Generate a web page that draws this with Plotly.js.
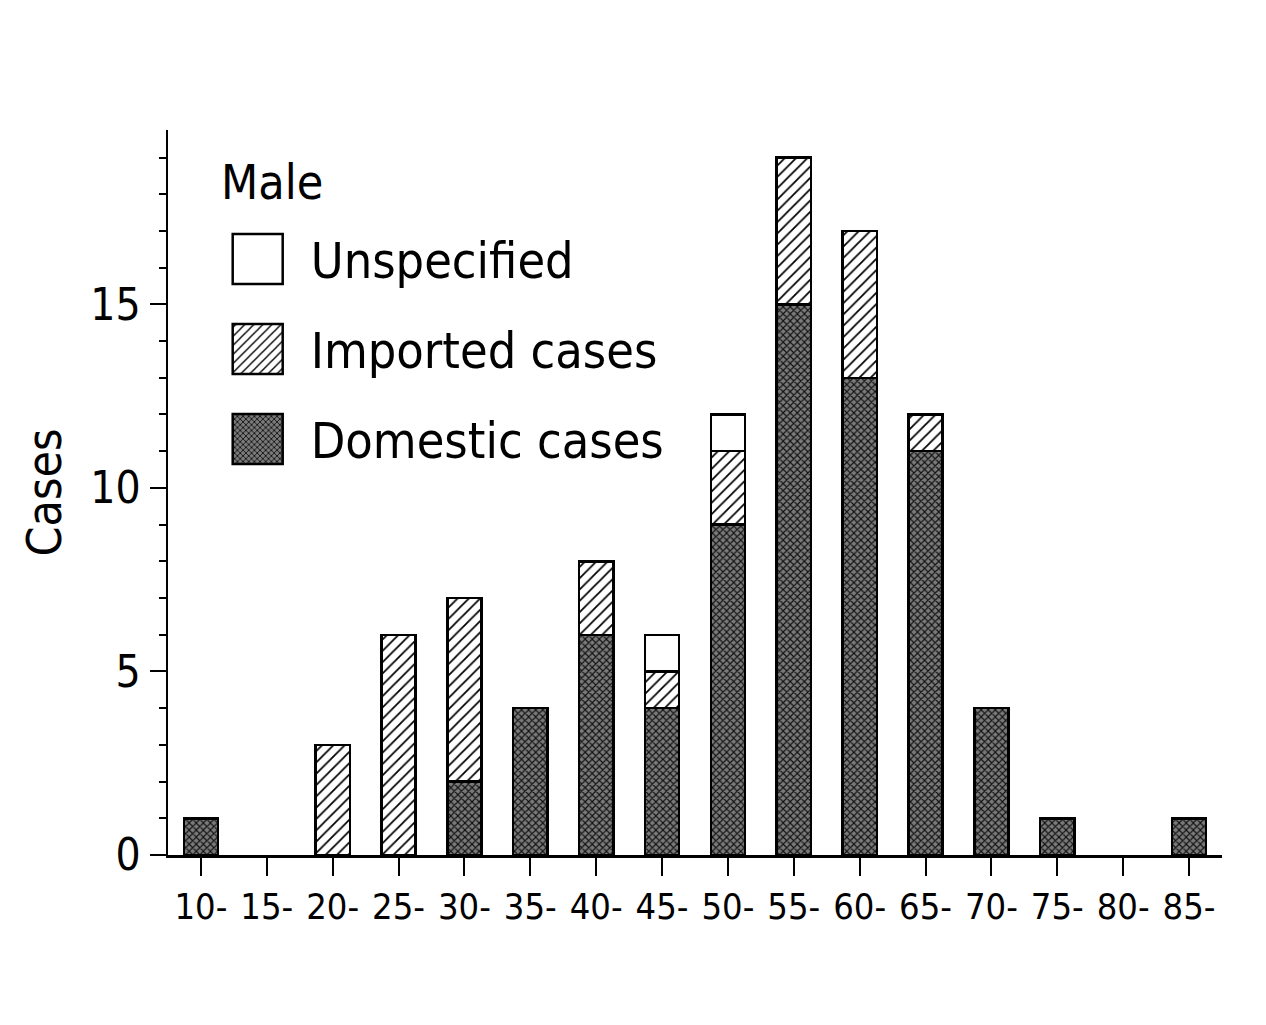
<!DOCTYPE html>
<html>
<head>
<meta charset="utf-8">
<script src="https://cdn.plot.ly/plotly-3.0.1.min.js"></script>
<style>html,body{margin:0;padding:0;background:#fff;}#chart{width:1266px;height:1025px;}</style>
</head>
<body>
<div id="chart"></div>
<script>
const categories = ["10-","15-","20-","25-","30-","35-","40-","45-","50-","55-","60-","65-","70-","75-","80-","85-"];
const domestic    = [1,0,0,0,2,4,6,4,9,15,13,11,4,1,0,1];
const imported    = [0,0,3,6,5,0,2,1,2,4,4,1,0,0,0,0];
const unspecified = [0,0,0,0,0,0,0,1,1,0,0,0,0,0,0,0];
const yTicks = [0,5,10,15];
const legendTitle = 'Male';

const FONT = "'DejaVu Sans Condensed', 'DejaVu Sans', sans-serif";
const outline = {color:'#000', width:2.5};
const nz = arr => arr.map(v => (v === 0 ? null : v));

const traces = [
  {type:'bar', name:'Domestic cases', x:categories, y:nz(domestic), legendgroup:'d', legendrank:3,
   marker:{color:'#5a5a5a', line:outline,
     pattern:{shape:'x', fgcolor:'#111', bgcolor:'#7a7a7a', size:5, solidity:0.4, fillmode:'replace'}}},
  {type:'bar', name:'Imported cases', x:categories, y:nz(imported), legendgroup:'i', legendrank:2,
   marker:{color:'#fff', line:outline,
     pattern:{shape:'/', fgcolor:'#000', bgcolor:'#fff', size:8, solidity:0.22, fillmode:'replace'}}},
  {type:'bar', name:'Unspecified', x:categories, y:nz(unspecified), legendgroup:'u', legendrank:1,
   marker:{color:'#fff', line:outline}}
];

const layout = {
  width:1266, height:1025,
  paper_bgcolor:'#fff', plot_bgcolor:'#fff',
  margin:{l:168, r:44, t:130, b:170},
  barmode:'stack', bargap:0.48,
  font:{family:FONT, color:'#000', size:34},
  showlegend:true,
  legend:{
    x:0.05, y:0.876, xanchor:'left', yanchor:'top',
    bgcolor:'rgba(0,0,0,0)', borderwidth:0,
    traceorder:'grouped', tracegroupgap:22,
    itemwidth:80,
    font:{family:FONT, size:50, color:'#000'}
  },
  annotations:[{
    text:legendTitle, xref:'paper', yref:'paper', x:0.048, y:0.928,
    xanchor:'left', yanchor:'middle', showarrow:false,
    font:{family:FONT, size:48, color:'#000'}
  }],
  xaxis:{
    type:'category', categoryorder:'array', categoryarray:categories,
    range:[-0.5,15.5], showline:true, linecolor:'#000', linewidth:2.5,
    ticks:'outside', ticklen:18, tickwidth:2, tickcolor:'#000',
    tickfont:{family:FONT, size:36, color:'#000'},
    showgrid:false, zeroline:false, fixedrange:true
  },
  yaxis:{
    range:[0,19.75], showline:true, linecolor:'#000', linewidth:2.5,
    tickmode:'array', tickvals:yTicks, ticktext:yTicks.map(String),
    ticks:'outside', ticklen:16, tickwidth:2, tickcolor:'#000',
    minor:{dtick:1, tick0:0, ticks:'outside', ticklen:7, tickwidth:2, tickcolor:'#000', showgrid:false},
    tickfont:{family:FONT, size:44, color:'#000'},
    showgrid:false, zeroline:false,
    title:{text:'Cases', font:{family:FONT, size:48, color:'#000'}, standoff:14}
  }
};

// enlarge the library-drawn legend swatches (keeps Plotly's own transform & pattern fill)
function enlargeLegendSymbols(gd) {
  gd.querySelectorAll('.legend .legendpoints path').forEach(p => {
    p.setAttribute('d', 'M17,25H-33V-25H17Z');
    p.style.strokeWidth = '2.5px';
  });
}

const gd = document.getElementById('chart');
Plotly.newPlot(gd, traces, layout, {staticPlot:true, displayModeBar:false}).then(() => {
  enlargeLegendSymbols(gd);
  gd.on('plotly_afterplot', () => enlargeLegendSymbols(gd));
});
</script>
</body>
</html>
